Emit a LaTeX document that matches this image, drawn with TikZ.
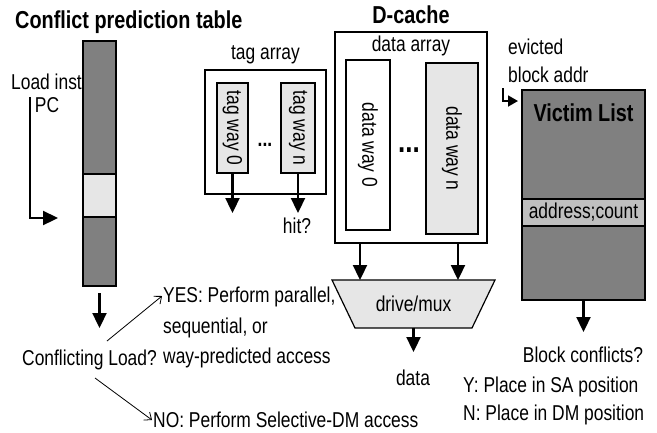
\documentclass[tikz,border=0pt]{standalone}
\usepackage{fontspec}
\setmainfont{Liberation Sans}[FakeStretch=0.81]
\usetikzlibrary{arrows.meta}
\definecolor{dk}{HTML}{808080}
\definecolor{lt}{HTML}{E6E6E6}
\definecolor{md}{HTML}{BFBFBF}
\begin{document}
\begin{tikzpicture}[x=1pt,y=-1pt,
  box/.style={draw, line width=2.2pt, inner sep=0pt},
  txt/.style={font=\fontsize{21.5}{25}\selectfont, inner sep=0pt},
  bld/.style={font=\fontsize{24.5}{28}\selectfont\bfseries, inner sep=0pt},
  arr/.style={line width=2.3pt, -{Triangle[width=14pt,length=15pt]}},
  sarr/.style={line width=1.8pt, -{Triangle[width=11pt,length=10pt]}},
  oarr/.style={line width=0.8pt, -{Straight Barb[width=10pt,length=6pt]}}]
\useasboundingbox (0,0) rectangle (657,432);

% Conflict prediction table
\node[bld, anchor=west] (title) at (15,22) {Conflict prediction table};
\node[box, fill=dk, minimum width=33, minimum height=133] (col1) at (99.5,107.5) {};
\node[box, fill=lt, minimum width=33, minimum height=43] (col2) at (99.5,195.5) {};
\node[box, fill=dk, minimum width=33, minimum height=69] (col3) at (99.5,251.5) {};
\node[txt] (load) at (46.5,82) {Load inst};
\node[txt] (pc) at (47,105) {PC};
\coordinate (pcs) at (30,97);
\coordinate (pce) at (58,218);
\draw[arr] (pcs) |- (pce);
\coordinate (cs) at (99.5,293);
\coordinate (ce) at (99.5,328);
\draw[arr] (cs) -- (ce);
\node[txt] (cl) at (89.5,360) {Conflicting Load?};
\node[txt, anchor=west] (yes1) at (163,297) {YES: Perform parallel,};
\node[txt, anchor=west] (yes2) at (163,328) {sequential, or};
\node[txt, anchor=west] (yes3) at (163,358) {way-predicted access};
\node[txt, anchor=west] (no) at (153,420) {NO: Perform Selective-DM access};
\coordinate (ys) at (107,341);
\coordinate (ye) at (162,296);
\coordinate (ns) at (95,378);
\coordinate (ne) at (152,420);
\draw[oarr] (ys) -- (ye);
\draw[oarr] (ns) -- (ne);

% tag array
\node[txt] (tagl) at (265.5,55) {tag array};
\node[box, minimum width=121, minimum height=124] (tag) at (265.5,132) {};
\node[box, fill=lt, minimum width=31, minimum height=90] (tw0) at (232.5,128) {};
\node[box, fill=lt, minimum width=34, minimum height=90] (twn) at (298,128) {};
\node[txt, rotate=-90] (tw0l) at (tw0) {tag way 0};
\node[txt, rotate=-90] (twnl) at (twn) {tag way n};
\node[txt] (tdots) at (265,145) {\textbf{...}};
\coordinate (t0e) at (232.5,213);
\coordinate (tne) at (298,213);
\draw[arr] (tw0.south) -- (t0e);
\draw[arr] (twn.south) -- (tne);
\node[txt] (hit) at (297,226) {hit?};

% D-cache
\node[bld] (dcl) at (411,15) {D-cache};
\node[box, minimum width=152, minimum height=211] (dc) at (411,137.5) {};
\node[txt] (dal) at (411,46) {data array};
\node[box, minimum width=44, minimum height=170] (dw0) at (368,145) {};
\node[box, fill=lt, minimum width=52, minimum height=171] (dwn) at (452,148.5) {};
\node[txt, rotate=-90] (dw0l) at (dw0) {data way 0};
\node[txt, rotate=-90] (dwnl) at (dwn) {data way n};
\node[font=\fontsize{32}{36}\selectfont\bfseries, inner sep=0pt] (ddots) at (409,150) {...};

% mux
\coordinate (mtl) at (332,280);
\coordinate (mtr) at (495,280);
\coordinate (mbr) at (472,328);
\coordinate (mbl) at (355,328);
\draw[fill=lt, line width=1.2pt, line join=miter] (mtl) -- (mtr) -- (mbr) -- (mbl) -- cycle;
\node[txt] (mux) at (413.5,304) {drive/mux};
\draw[arr] ([xshift=-51pt]dc.south) -- ([xshift=-51pt]dc.south |- mtl);
\draw[arr] ([xshift=47pt]dc.south) -- ([xshift=47pt]dc.south |- mtl);
\coordinate (ms) at (413.5,328);
\coordinate (de) at (413.5,352);
\draw[arr] (ms) -- (de);
\node[txt] (data) at (413,378) {data};

% Victim list
\node[txt, anchor=west] (ev1) at (508,47) {evicted};
\node[txt, anchor=west] (ev2) at (508,75) {block addr};
\node[box, fill=dk, minimum width=123, minimum height=109] (v1) at (583.5,144.5) {};
\node[box, fill=md, minimum width=123, minimum height=27] (v2) at (583.5,212.5) {};
\node[box, fill=dk, minimum width=123, minimum height=74] (v3) at (583.5,263) {};
\node[bld] (vl) at (583.5,113) {Victim List};
\node[txt] (ac) at (v2) {address;count};
\coordinate (evs) at (503,88);
\coordinate (eve) at (518,101);
\draw[sarr] (evs) |- (eve);
\coordinate (ve) at (583.5,332);
\draw[arr] (v3.south) -- (ve);
\node[txt] (bc) at (583,355) {Block conflicts?};
\node[txt, anchor=west] (yp) at (463,387) {Y: Place in SA position};
\node[txt, anchor=west] (np) at (463,415) {N: Place in DM position};
\end{tikzpicture}
\end{document}
